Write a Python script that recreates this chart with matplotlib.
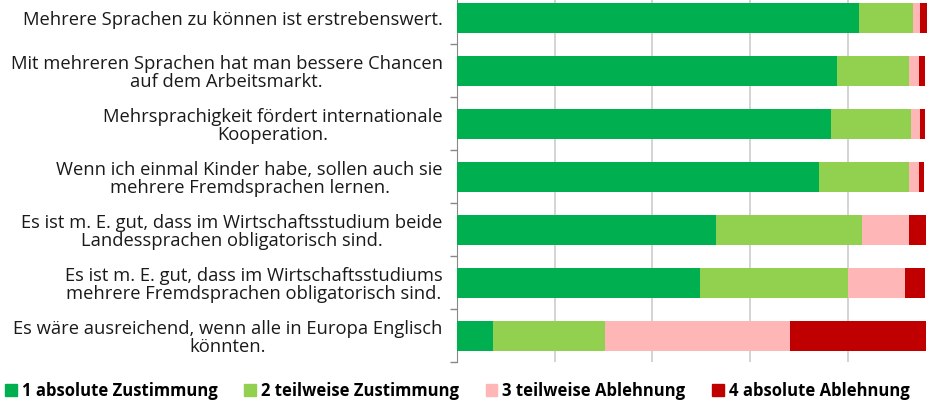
import matplotlib
matplotlib.use("Agg")
import matplotlib.pyplot as plt
from matplotlib.patches import Patch

# Aussagen (von oben nach unten)
aussagen = [
    "Mehrere Sprachen zu können ist erstrebenswert.",
    "Mit mehreren Sprachen hat man bessere Chancen\nauf dem Arbeitsmarkt.",
    "Mehrsprachigkeit fördert internationale\nKooperation.",
    "Wenn ich einmal Kinder habe, sollen auch sie\nmehrere Fremdsprachen lernen.",
    "Es ist m. E. gut, dass im Wirtschaftsstudium beide\nLandessprachen obligatorisch sind.",
    "Es ist m. E. gut, dass im Wirtschaftsstudiums\nmehrere Fremdsprachen obligatorisch sind.",
    "Es wäre ausreichend, wenn alle in Europa Englisch\nkönnten.",
]

# Anteile in %
zustimmung_absolut = [82.2, 77.7, 76.5, 74.0, 53.0, 49.7, 7.4]
zustimmung_teilweise = [11.1, 14.8, 16.4, 18.5, 29.7, 30.2, 23.0]
ablehnung_teilweise = [1.4, 2.0, 1.8, 2.0, 9.7, 11.6, 37.7]
ablehnung_absolut = [1.4, 1.2, 1.0, 1.0, 3.5, 4.1, 27.7]

serien = [
    ("1 absolute Zustimmung", zustimmung_absolut, "#00B050"),
    ("2 teilweise Zustimmung", zustimmung_teilweise, "#92D050"),
    ("3 teilweise Ablehnung", ablehnung_teilweise, "#FFB6B6"),
    ("4 absolute Ablehnung", ablehnung_absolut, "#C00000"),
]

plt.rcParams['font.family'] = ['Open Sans', 'DejaVu Sans']

fig = plt.figure(figsize=(9.28, 4.03), dpi=100)
ax = fig.add_axes([0.4921, 0.101, 0.5079, 0.9206])

y = list(range(len(aussagen)))
links = [0.0] * len(aussagen)
for name, werte, farbe in serien:
    ax.barh(y, werte, left=links, height=0.56, color=farbe, label=name, zorder=3)
    links = [l + w for l, w in zip(links, werte)]

ax.set_xlim(0, 96.28)
ax.set_ylim(len(aussagen) - 0.5, -0.5)

ax.set_xticks([20, 40, 60, 80])
ax.set_xticklabels([])
ax.tick_params(axis='x', length=0)
ax.grid(axis='x', color='#cccccc', linewidth=1.2, zorder=0)

ax.set_yticks(y)
ax.set_yticklabels(aussagen, fontsize=13.2, color='#1a1a1a', linespacing=1.05)
for t in ax.get_yticklabels():
    t.set_multialignment('center')
ax.set_yticks([i + 0.5 for i in range(-1, len(aussagen))], minor=True)
ax.tick_params(axis='y', which='major', length=0, pad=10)
ax.tick_params(axis='y', which='minor', length=5, color='#888888', width=1)

for s in ['top', 'right', 'bottom']:
    ax.spines[s].set_visible(False)
ax.spines['left'].set_color('#888888')

handles = [Patch(color=f, label=n) for n, _, f in serien]
fig.legend(handles=handles, loc='center', bbox_to_anchor=(0.493, 1 - 391 / 403),
           ncol=4, frameon=False, prop={'weight': 'bold', 'size': 12},
           handlelength=0.7, handleheight=0.7, handletextpad=0.3,
           columnspacing=1.6, borderpad=0)

fig.savefig("out.png", dpi=100)
